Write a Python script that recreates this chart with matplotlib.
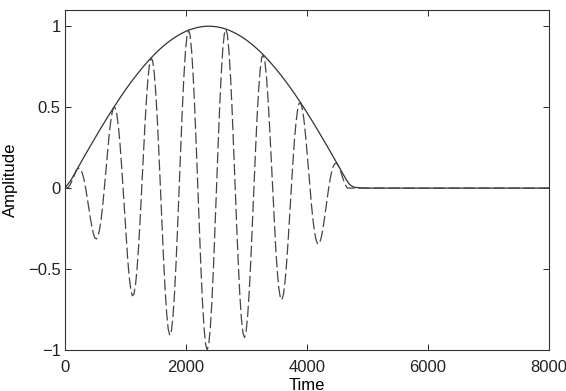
import matplotlib
matplotlib.use("Agg")
import matplotlib.pyplot as plt

plt.rcParams['font.family'] = ['Liberation Sans', 'DejaVu Sans']

# Envelope (solid line)
env_time = [0, 100, 200, 300, 400, 500, 600, 700, 800, 900, 1000, 1100, 1200,
            1300, 1400, 1500, 1600, 1700, 1800, 1900, 2000, 2100, 2200, 2300,
            2400, 2500, 2600, 2700, 2800, 2900, 3000, 3100, 3200, 3300, 3400,
            3500, 3600, 3700, 3800, 3900, 4000, 4100, 4200, 4300, 4400, 4500,
            4600, 4650, 4700, 4750, 4800, 4900, 5000, 8000]
env_values = [0.000, 0.050, 0.117, 0.183, 0.248, 0.312, 0.375, 0.436, 0.495,
              0.552, 0.607, 0.659, 0.707, 0.753, 0.795, 0.834, 0.869, 0.900,
              0.927, 0.950, 0.969, 0.983, 0.993, 0.999, 1.000, 0.997, 0.989,
              0.977, 0.960, 0.939, 0.914, 0.885, 0.852, 0.815, 0.774, 0.730,
              0.683, 0.633, 0.580, 0.524, 0.466, 0.406, 0.344, 0.280, 0.216,
              0.150, 0.084, 0.052, 0.024, 0.010, 0.004, 0.001, 0.000, 0.000]

# Windowed oscillation (dashed line), sampled every 25.75 time units from 32.5
sample_start = 32.5
sample_step = 25.75
osc_values = [
    0.000, 0.006, 0.020, 0.040, 0.063, 0.087, 0.108, 0.121, 0.123, 0.112,
    0.088, 0.050, 0.000, -0.059, -0.122, -0.184, -0.239, -0.283, -0.309, -0.314,
    -0.296, -0.253, -0.187, -0.101, 0.000, 0.109, 0.219, 0.320, 0.405, 0.467,
    0.498, 0.495, 0.456, 0.383, 0.278, 0.148, 0.000, -0.155, -0.306, -0.442,
    -0.553, -0.630, -0.665, -0.655, -0.598, -0.497, -0.358, -0.188, 0.000, 0.194,
    0.381, 0.546, 0.678, 0.767, 0.804, 0.786, 0.714, 0.590, 0.422, 0.221,
    0.000, -0.225, -0.439, -0.626, -0.774, -0.871, -0.909, -0.885, -0.799, -0.657,
    -0.468, -0.244, 0.000, 0.247, 0.479, 0.680, 0.837, 0.938, 0.975, 0.946,
    0.850, 0.696, 0.494, 0.257, 0.000, -0.258, -0.498, -0.706, -0.865, -0.965,
    -1.000,
    -0.966, -0.866, -0.706, -0.500, -0.258, 0.000, 0.258, 0.497, 0.701, 0.856,
    0.952, 0.982, 0.946, 0.844, 0.686, 0.484, 0.249, 0.000, -0.247, -0.474,
    -0.665, -0.810, -0.897, -0.923, -0.885, -0.787, -0.638, -0.447, -0.229, 0.000,
    0.225, 0.431, 0.602, 0.730, 0.806, 0.824, 0.786, 0.696, 0.561, 0.392,
    0.200, 0.000, -0.194, -0.369, -0.514, -0.619, -0.679, -0.690, -0.655, -0.576,
    -0.461, -0.320, -0.162, 0.000, 0.155, 0.292, 0.403, 0.481, 0.524, 0.527,
    0.495, 0.431, 0.341, 0.234, 0.117, 0.000, -0.109, -0.203, -0.276, -0.324,
    -0.346, -0.342, -0.314, -0.268, -0.207, -0.138, -0.067, 0.000, 0.059, 0.105,
    0.136, 0.152, 0.154, 0.142, 0.121, 0.094, 0.064, 0.037, 0.015, 0.000,
]
osc_tail_time = [4720, 8000]
osc_tail_values = [0.000, 0.000]

osc_time = [0.0] + [sample_start + sample_step * i for i in range(len(osc_values))] + osc_tail_time
osc_all = [0.0] + osc_values + osc_tail_values

x_ticks = [0, 2000, 4000, 6000, 8000]
x_tick_labels = ['0', '2000', '4000', '6000', '8000']
y_ticks = [-1, -0.5, 0, 0.5, 1]
y_tick_labels = ['\u22121', '\u22120.5', '0', '0.5', '1']

fig = plt.figure(figsize=(5.66, 3.91), dpi=100)
ax = fig.add_axes([65 / 566, 41 / 391, 484 / 566, 340 / 391])

ax.plot(env_time, env_values, color='#333333', linewidth=0.9, solid_capstyle='butt')
ax.plot(osc_time, osc_all, color='#444444', linewidth=0.9, linestyle='--', dashes=(9, 3))

ax.set_xlim(0, 8000)
ax.set_ylim(-1, 1.1)
ax.set_xticks(x_ticks)
ax.set_xticklabels(x_tick_labels)
ax.set_yticks(y_ticks)
ax.set_yticklabels(y_tick_labels)

ax.tick_params(direction='in', length=4, width=0.7, top=True, right=True,
               labelsize=12, pad=7, colors='#222222')
ax.tick_params(axis='y', pad=3)
for s in ax.spines.values():
    s.set_linewidth(0.8)
    s.set_color('#333333')

ax.set_xlabel('Time', fontsize=12, labelpad=2)
ax.set_ylabel('Amplitude', fontsize=12, labelpad=7)

fig.savefig('out.png', dpi=100)
